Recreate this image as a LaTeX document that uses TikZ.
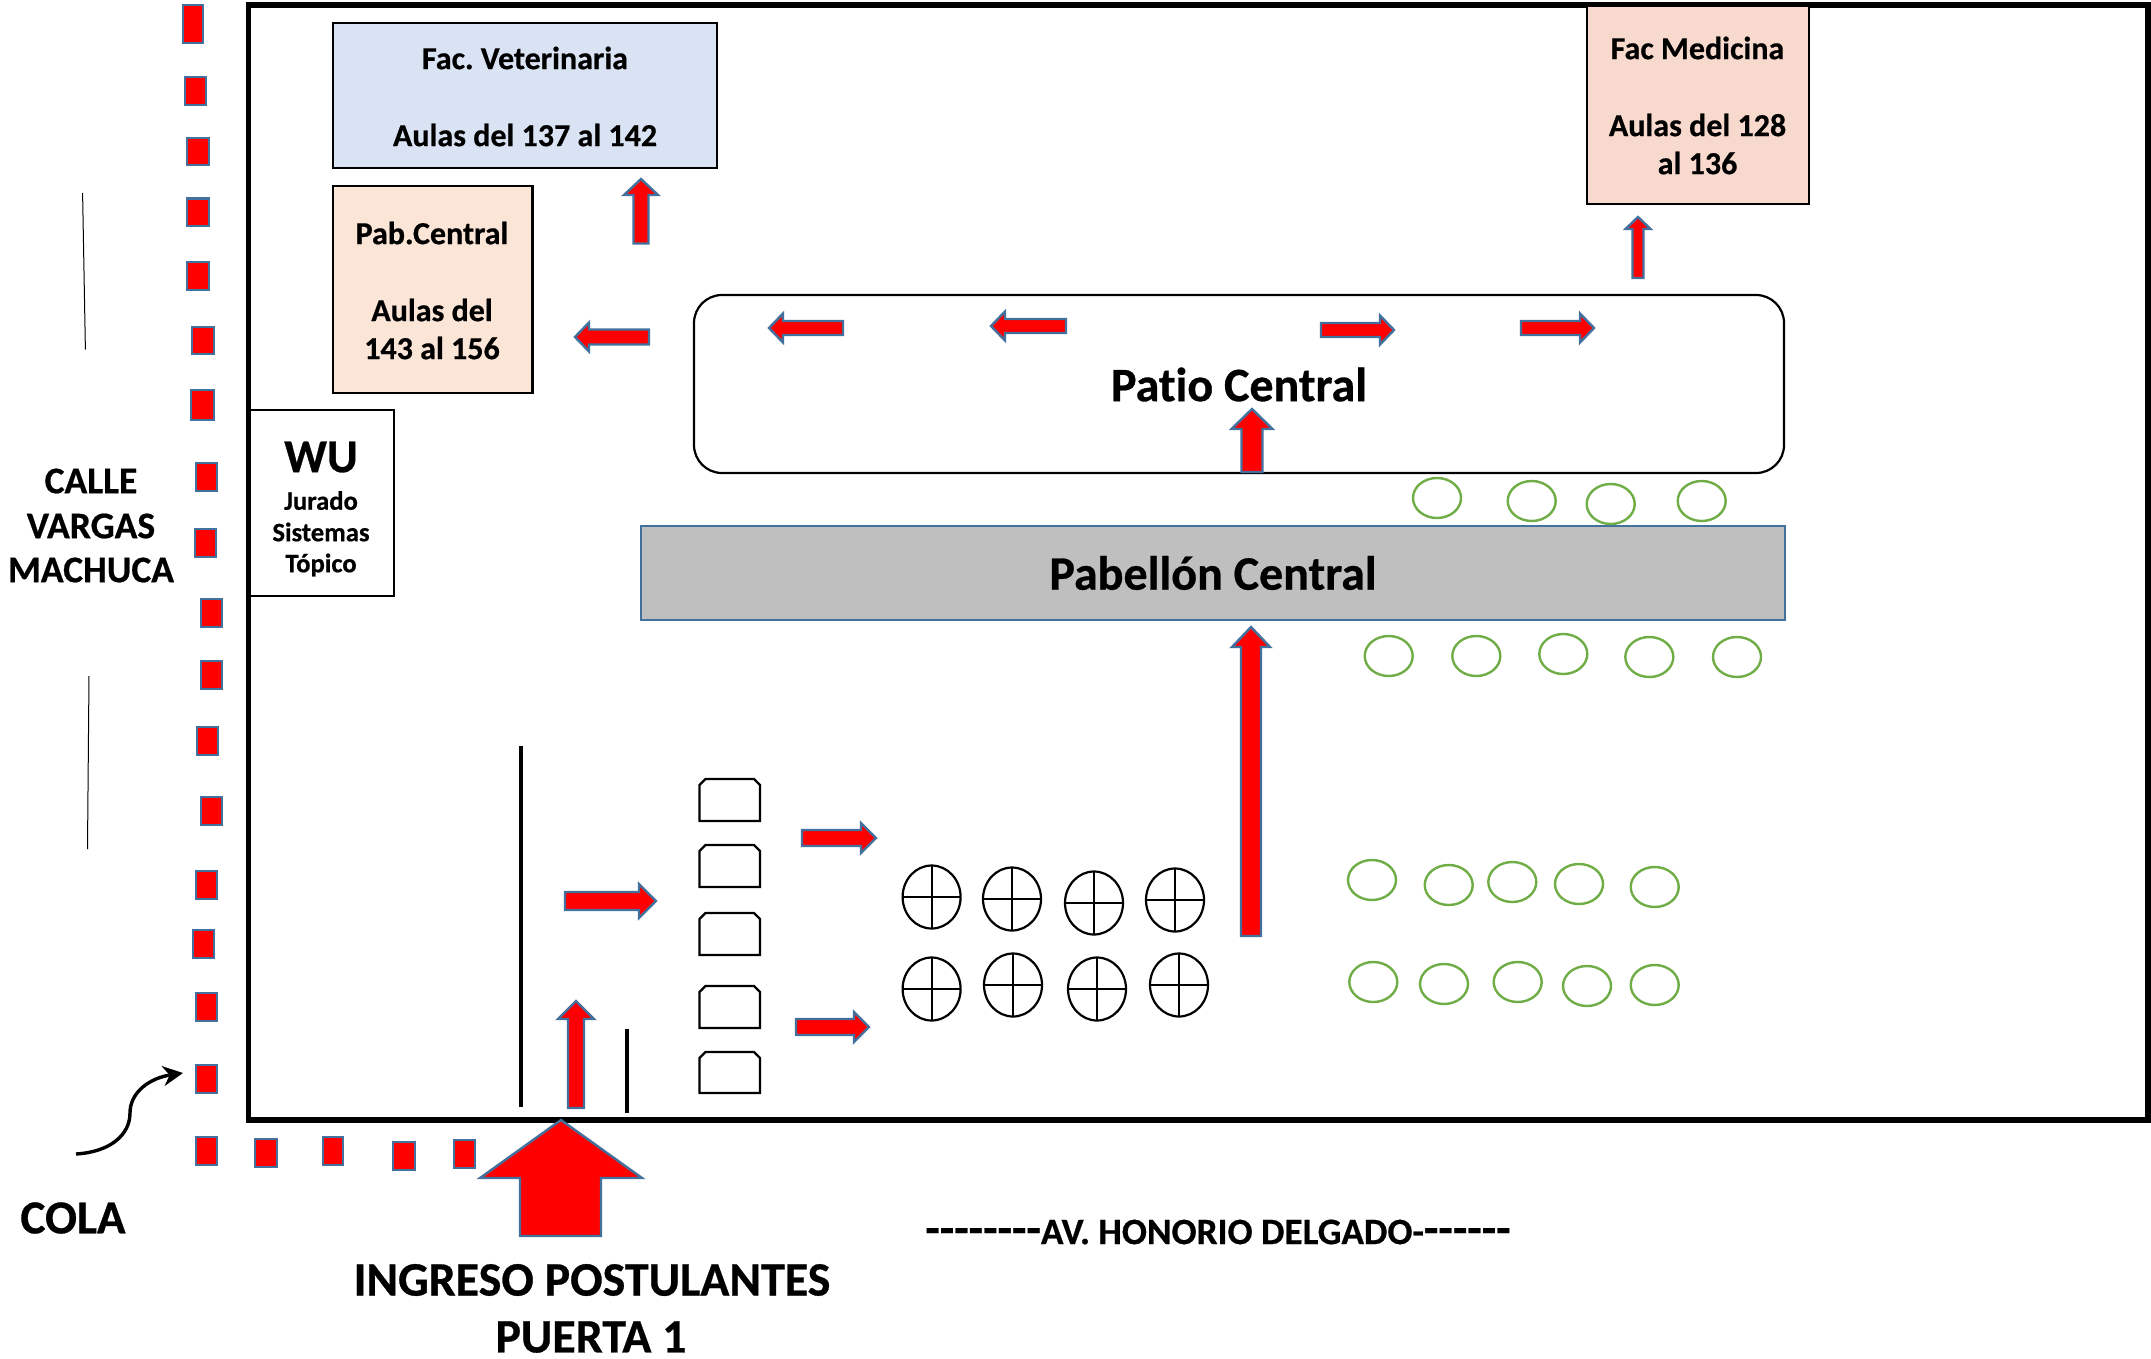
\documentclass[tikz,border=0pt]{standalone}
\usepackage{fontspec}
\setmainfont{Carlito}[Ligatures=NoCommon,BoldFeatures={FakeBold=0.6}]
\frenchspacing
\usetikzlibrary{arrows.meta}
\definecolor{arrowblue}{HTML}{41719C}
\definecolor{frameblue}{HTML}{41719C}
\definecolor{vetfill}{HTML}{DAE3F3}
\definecolor{pabfill}{HTML}{FBE5D6}
\definecolor{medfill}{HTML}{F8D9CE}
\definecolor{greyfill}{HTML}{BFBFBF}
\definecolor{treegreen}{HTML}{70AD47}
\tikzset{
  redarrow/.style={fill=red,draw=arrowblue,line width=1.2pt,miter limit=10},
  dotbox/.style={fill=red,draw=arrowblue,line width=1.2pt},
  roombox/.style={draw=black,line width=1.1pt},
  treeoval/.style={draw=treegreen,line width=1.2pt},
  seat/.style={draw=black,line width=1.1pt},
  cross/.style={draw=black,line width=1pt},
  wall/.style={draw=black,line width=2.4pt},
  lab/.style={inner sep=0pt,font=\bfseries\fontsize{16}{16}\selectfont,align=center},
  labbig/.style={inner sep=0pt,font=\bfseries\fontsize{24}{24}\selectfont,align=center},
  labmid/.style={inner sep=0pt,font=\bfseries\fontsize{18.8}{18.8}\selectfont,align=center},
  labsmall/.style={inner sep=0pt,font=\bfseries\fontsize{13.3}{13.3}\selectfont,align=center}
}
% tip x, tip y, rotation, length, head length, head half, shaft half
\newcommand{\blockarrow}[7]{%
  \draw[redarrow,shift={(#1,#2)},rotate=#3] (0,0) -- (-#5,#6) -- (-#5,#7) -- (-#4,#7) -- (-#4,-#7) -- (-#5,-#7) -- (-#5,-#6) -- cycle;}
\newcommand{\dotb}[4]{\draw[dotbox] (#1,#2) rectangle (#3,#4);}
\newcommand{\seatshape}[2]{%
  \draw[seat] (699.5,#2) -- (699.5,#1+6) -- (705.5,#1) -- (754,#1) -- (760,#1+6) -- (760,#2) -- cycle;}
\newcommand{\crossoval}[2]{%
  \draw[cross,line width=1.1pt] (#1,#2) ellipse [x radius=29,y radius=31.5];
  \draw[cross] (#1-29,#2) -- (#1+29,#2) (#1,#2-31.5) -- (#1,#2+31.5);}
\newcommand{\bigdashes}[1]{{\fontsize{23.6}{23.6}\selectfont #1}}
\begin{document}
\begin{tikzpicture}[x=0.5pt,y=-0.5pt]
\useasboundingbox (0,0) rectangle (2151,1359);
% outer frame
\draw[black,line width=2.8pt] (248.5,5) rectangle (2148,1120);
% boxes
\fill[vetfill] (333,23) rectangle (717,168);
\draw[roombox] (333,23) rectangle (717,168);
\fill[pabfill] (333,186) rectangle (532.5,393);
\draw[roombox] (333,186) rectangle (532.5,393);
\draw[roombox] (250,410) rectangle (394,596);
\fill[medfill] (1587,6) rectangle (1809,204);
\draw[roombox] (1587,6) rectangle (1809,204);
\draw[roombox,rounded corners=14pt] (694,295) rectangle (1784,473);
\fill[greyfill] (641,526) rectangle (1785,620);
\draw[frameblue,line width=1.1pt] (641,526) rectangle (1785,620);
% texts
\node[lab] (t1) at (525,58) {Fac. Veterinaria};
\node[lab] (t2) at (525,135) {Aulas del 137 al 142};
\node[lab] (t3) at (432,233) {Pab.Central};
\node[lab] (t4) at (432,310) {Aulas del};
\node[lab] (t5) at (432,348) {143 al 156};
\node[lab] (t6) at (1697.5,48) {Fac Medicina};
\node[lab] (t7) at (1697.5,125) {Aulas del 128};
\node[lab] (t8) at (1697.5,163) {al 136};
\node[labbig,font=\bfseries\fontsize{23.6}{23.6}\selectfont] (wu) at (321,457) {WU};
\node[labsmall] (j1) at (321,500.5) {Jurado};
\node[labsmall] (j2) at (321,532) {Sistemas};
\node[labsmall] (j3) at (321,565) {Tópico};
\node[labbig] (patio) at (1239,384.5) {Patio Central};
\node[labbig] (pabc) at (1213,573) {Pabellón Central};
\node[labmid] (c1) at (91,481) {CALLE};
\node[labmid] (c2) at (91,526) {VARGAS};
\node[labmid] (c3) at (91,570) {MACHUCA};
\node[labbig,font=\bfseries\fontsize{23.6}{23.6}\selectfont] (cola) at (73,1218) {COLA};
\node[labbig] (ing) at (592,1280) {INGRESO POSTULANTES};
\node[labbig] (pu) at (591,1337) {PUERTA 1};
\node[labmid,font=\bfseries\fontsize{18.6}{18.6}\selectfont] (av) at (1218,1232) {\bigdashes{-{}-{}-{}-{}-{}-{}-{}-}AV. HONORIO DELGADO-\bigdashes{-{}-{}-{}-{}-{}-}};
% thin lines
\draw[black,line width=0.5pt] (82.6,193) -- (85.4,349.5);
\draw[black,line width=0.5pt] (89,676) -- (87.5,849);
% queue dots
\dotb{183}{5}{203}{43}
\dotb{185}{77}{206}{105}
\dotb{187}{138}{209}{165}
\dotb{187}{198.5}{209}{226}
\dotb{187}{262}{209}{290}
\dotb{192}{327}{214}{354}
\dotb{191}{390}{214}{420}
\dotb{196}{463}{217}{491}
\dotb{195}{529}{216}{557}
\dotb{201}{599}{222}{627}
\dotb{201}{661}{222}{689}
\dotb{197}{727}{218}{755}
\dotb{201}{797}{222}{825}
\dotb{196}{871}{217}{899}
\dotb{193}{930}{214}{958}
\dotb{196}{993}{217}{1021}
\dotb{196}{1065}{217}{1093}
\dotb{196}{1137}{217}{1165}
\dotb{255}{1139}{277}{1167}
\dotb{323}{1137}{343}{1165}
\dotb{393}{1142}{415}{1170}
\dotb{454}{1140}{475}{1168}
% cola arrow
\coordinate (cs) at (76,1154);
\coordinate (ce) at (183,1073);
\draw[black,line width=1.7pt,-{Stealth[length=10pt,width=10pt]}] (cs) .. controls (110,1152) and (130,1135) .. (130,1113) .. controls (130,1092) and (150,1078) .. (ce);
% entrance
\draw[redarrow] (561,1120) -- (642,1178) -- (601,1178) -- (601,1236) -- (520,1236) -- (520,1178) -- (480,1178) -- cycle;
\blockarrow{576}{1001}{90}{107}{18}{18}{8}
\draw[wall] (521,746) -- (521,1107);
\draw[wall] (627,1029) -- (627,1113);
% seats
\seatshape{779}{821}
\seatshape{845}{887}
\seatshape{913}{955}
\seatshape{986}{1028}
\seatshape{1052}{1093}
% crossed ovals
\crossoval{931.6}{897}
\crossoval{1012}{899}
\crossoval{1094}{903}
\crossoval{1175}{900}
\crossoval{931.6}{989}
\crossoval{1013}{985}
\crossoval{1097}{989}
\crossoval{1179}{985}
% green ovals
\foreach \x/\y in {1437/498,1531.7/501,1610.7/504,1701.7/501,
  1388.7/656,1476.3/656,1563.3/654,1649.3/657,1737/657,
  1372/880,1448.7/885,1512.3/882,1579/884,1654.7/887,
  1373.3/982,1444/984,1517.7/982,1587/986,1654.7/985}
  \draw[treeoval] (\x,\y) ellipse [x radius=24,y radius=20];
% red arrows
\blockarrow{641}{179}{90}{64.5}{16}{17}{7.5}
\blockarrow{575}{337}{180}{74}{14}{14.5}{7.5}
\blockarrow{769}{328}{180}{74}{14}{14.5}{7}
\blockarrow{991}{326}{180}{75}{14}{14.5}{7}
\blockarrow{1394}{330}{0}{73}{14}{14.5}{7}
\blockarrow{1594}{328}{0}{73}{14}{14.5}{7}
\blockarrow{1638}{217}{90}{61}{12}{12.5}{5.5}
\blockarrow{1252}{409}{90}{63}{20}{20.5}{10.5}
\blockarrow{1251}{627}{90}{309}{20}{19}{10}
\blockarrow{876}{838}{0}{74}{15}{15}{8}
\blockarrow{869}{1027}{0}{73}{15}{15}{8}
\blockarrow{656}{901}{0}{91}{17}{17}{9}
\end{tikzpicture}
\end{document}
